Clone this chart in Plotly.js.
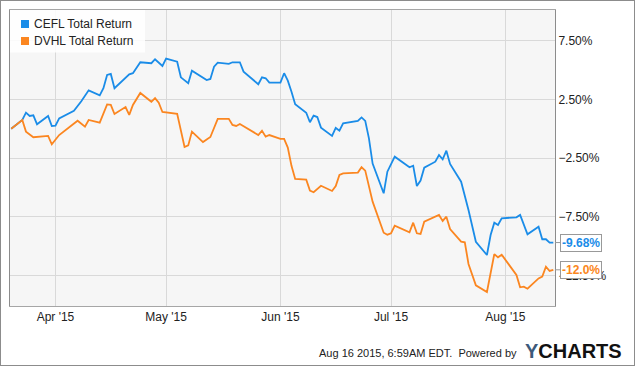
<!DOCTYPE html>
<html>
<head>
<meta charset="utf-8">
<script src="https://cdn.plot.ly/plotly-3.0.1.min.js"></script>
<style>
  html, body { margin: 0; padding: 0; background: #fff; }
  #chart { width: 633px; height: 364px; border: 1px solid #8c8c8c; }
</style>
</head>
<body>
<div id="chart"></div>
<script>
// ---- data ----
var seriesNames = ["CEFL Total Return", "DVHL Total Return"];
var seriesColors = ["#1a8ce8", "#fb8620"];
var endLabels = ["-9.68%", "-12.0%"];

var ceflDates = ["2015-03-20","2015-03-23","2015-03-24","2015-03-25","2015-03-26","2015-03-27","2015-03-30","2015-03-31",
  "2015-04-01","2015-04-02","2015-04-06","2015-04-08","2015-04-10","2015-04-13","2015-04-14","2015-04-15","2015-04-16","2015-04-17",
  "2015-04-21","2015-04-22","2015-04-24","2015-04-27","2015-04-28","2015-04-30",
  "2015-05-01","2015-05-04","2015-05-05","2015-05-07","2015-05-08","2015-05-12","2015-05-13","2015-05-14","2015-05-15",
  "2015-05-18","2015-05-19","2015-05-21","2015-05-22","2015-05-26","2015-05-27","2015-05-28","2015-05-29",
  "2015-06-01","2015-06-02","2015-06-03","2015-06-04","2015-06-05","2015-06-08","2015-06-09","2015-06-10","2015-06-11","2015-06-12",
  "2015-06-15","2015-06-16","2015-06-17","2015-06-18","2015-06-22","2015-06-23","2015-06-24","2015-06-25","2015-06-26",
  "2015-06-29","2015-06-30","2015-07-02","2015-07-06","2015-07-07","2015-07-08","2015-07-09","2015-07-10",
  "2015-07-13","2015-07-14","2015-07-15","2015-07-16","2015-07-17","2015-07-20","2015-07-22","2015-07-24",
  "2015-07-27","2015-07-28","2015-07-29","2015-07-30","2015-07-31","2015-08-04","2015-08-05","2015-08-07",
  "2015-08-10","2015-08-11","2015-08-12","2015-08-13","2015-08-14"];
var ceflValues = [0.00,0.75,1.37,1.09,1.15,0.39,1.09,0.24,
  0.27,0.89,1.54,2.34,3.27,2.85,3.45,4.58,4.67,3.45,
  4.64,4.73,5.66,5.58,5.92,5.35,
  5.97,5.71,4.38,3.87,4.95,4.15,4.24,5.29,5.63,
  5.52,5.66,5.66,4.86,3.79,4.38,4.30,3.93,
  3.93,4.73,4.10,3.16,2.09,1.37,0.56,1.12,1.00,0.10,
  -0.61,0.07,-0.16,0.47,0.67,0.97,0.67,-0.81,-2.96,
  -5.49,-3.65,-2.37,-3.27,-3.14,-4.87,-4.41,-3.31,
  -2.80,-2.23,-2.60,-1.86,-2.99,-4.50,-6.91,-9.61,
  -10.74,-9.04,-7.99,-8.19,-7.62,-7.53,-7.33,-8.98,
  -8.33,-9.40,-9.40,-9.69,-9.68];

var dvhlDates = ["2015-03-20","2015-03-23","2015-03-24","2015-03-26","2015-03-30","2015-03-31",
  "2015-04-02","2015-04-07","2015-04-09","2015-04-10","2015-04-13","2015-04-15","2015-04-16","2015-04-17",
  "2015-04-20","2015-04-21","2015-04-22","2015-04-24","2015-04-27","2015-04-28","2015-04-29","2015-04-30",
  "2015-05-04","2015-05-06","2015-05-07","2015-05-08","2015-05-11","2015-05-12","2015-05-13","2015-05-15",
  "2015-05-18","2015-05-19","2015-05-20","2015-05-21","2015-05-26","2015-05-27","2015-05-28","2015-05-29",
  "2015-06-01","2015-06-02","2015-06-03","2015-06-04","2015-06-05","2015-06-08","2015-06-09","2015-06-10","2015-06-12",
  "2015-06-15","2015-06-16","2015-06-17","2015-06-18","2015-06-22","2015-06-23","2015-06-24","2015-06-26",
  "2015-06-29","2015-06-30","2015-07-01","2015-07-02","2015-07-06","2015-07-07","2015-07-08","2015-07-09","2015-07-10",
  "2015-07-14","2015-07-15","2015-07-16","2015-07-17","2015-07-20","2015-07-21","2015-07-22","2015-07-24",
  "2015-07-27","2015-07-29","2015-07-30","2015-07-31","2015-08-04","2015-08-05","2015-08-06","2015-08-07",
  "2015-08-10","2015-08-11","2015-08-12","2015-08-13","2015-08-14"];
var dvhlValues = [0.00,0.75,-0.24,-0.72,-0.61,-1.32,
  -0.53,0.69,0.18,0.75,0.52,2.08,2.04,1.26,
  1.85,1.18,2.03,3.05,2.30,2.61,2.22,1.43,
  1.28,-1.55,-1.41,-0.24,-1.13,-0.95,-0.70,0.84,
  0.85,0.33,0.24,0.41,-0.53,-0.16,-0.67,-0.53,
  -0.85,-0.86,-1.60,-3.15,-4.27,-4.33,-5.25,-5.40,-4.85,
  -5.29,-4.87,-3.93,-3.79,-3.73,-3.27,-3.56,-6.20,
  -8.84,-9.01,-8.89,-8.24,-8.81,-7.99,-8.89,-8.95,-7.90,
  -7.33,-7.84,-7.48,-8.53,-9.60,-9.66,-11.50,-13.32,
  -13.89,-10.66,-10.94,-10.71,-12.44,-13.49,-13.44,-13.61,
  -12.73,-12.58,-11.73,-12.10,-12.00];

var xTickFormat = "%b '%y";
var footerText = "Aug 16 2015, 6:59AM EDT.  Powered by";

// ---- chart ----
var FONT = "'Liberation Sans', Arial, sans-serif";
var allDates = [ceflDates, dvhlDates];
var allValues = [ceflValues, dvhlValues];

var traces = allDates.map(function (d, i) {
  return {
    x: d, y: allValues[i], type: "scatter", mode: "lines",
    name: seriesNames[i], showlegend: false,
    line: { color: seriesColors[i], width: 1.8 },
    hoverinfo: "skip"
  };
});

// plot area geometry in pixels, for the hand-made legend
var PW = 545, PH = 296;
function px(x) { return x / PW; }
function py(y) { return 1 - y / PH; }

var shapes = [
  { type: "rect", xref: "paper", yref: "paper", x0: 0, x1: px(135), y0: py(42.5), y1: 1,
    fillcolor: "rgba(255,255,255,0.85)", line: { width: 0 }, layer: "above" }
];
var annotations = [];
seriesNames.forEach(function (n, i) {
  var cy = 14 + 17 * i;
  shapes.push({ type: "rect", xref: "paper", yref: "paper",
    x0: px(11), x1: px(19), y0: py(cy + 4), y1: py(cy - 4),
    fillcolor: seriesColors[i], line: { width: 0 }, layer: "above" });
  annotations.push({ xref: "paper", yref: "paper", x: px(22), y: py(cy),
    xanchor: "left", yanchor: "middle", showarrow: false, text: n,
    font: { family: FONT, size: 12, color: "#222" } });
  var vals = allValues[i];
  annotations.push({ xref: "paper", yref: "y", x: 1, y: vals[vals.length - 1],
    showarrow: true, arrowhead: 0, arrowwidth: 1, arrowcolor: "#999",
    ax: 5, ay: 0, xanchor: "left", yanchor: "middle",
    text: "<b>" + endLabels[i] + "</b>", bgcolor: "#fff", bordercolor: "#999",
    borderwidth: 1, borderpad: 1,
    font: { family: FONT, size: 12, color: seriesColors[i] } });
});

annotations.push({ xref: "paper", yref: "paper", x: px(509), y: py(343), xanchor: "right", yanchor: "middle",
  showarrow: false, text: footerText, font: { family: FONT, size: 11, color: "#222" } });
annotations.push({ xref: "paper", yref: "paper", x: px(513), y: py(341), xanchor: "left", yanchor: "middle",
  showarrow: false,
  text: "<b><span style='color:#3d5a7a'>Y</span>CHARTS</b>",
  font: { family: FONT, size: 20, color: "#111" } });

var layout = {
  width: 633, height: 364,
  margin: { l: 9, r: 79, t: 9, b: 59, pad: 0 },
  paper_bgcolor: "#fff",
  plot_bgcolor: "#f6f6f6",
  font: { family: FONT, size: 12, color: "#222" },
  showlegend: false,
  xaxis: {
    type: "date",
    range: ["2015-03-19 16:00", "2015-08-14 11:00"],
    tick0: "2015-04-01", dtick: "M1", tickformat: xTickFormat,
    ticklabelmode: "instant",
    showgrid: true, gridcolor: "#d9d9d9", gridwidth: 1,
    showline: true, linecolor: "#a6a6a6", linewidth: 1, mirror: true,
    ticks: "", zeroline: false,
    tickfont: { family: FONT, size: 12, color: "#222" }
  },
  yaxis: {
    side: "right",
    range: [-15.08, 10.11],
    tick0: 2.5, dtick: 5, tickformat: ".2f", ticksuffix: "%",
    showgrid: true, gridcolor: "#d9d9d9", gridwidth: 1,
    showline: true, linecolor: "#8c8c8c", linewidth: 1, mirror: true,
    ticks: "", zeroline: false,
    tickfont: { family: FONT, size: 12, color: "#222" }
  },
  shapes: shapes,
  annotations: annotations
};

Plotly.newPlot("chart", traces, layout, { displayModeBar: false, staticPlot: true });
</script>
</body>
</html>
